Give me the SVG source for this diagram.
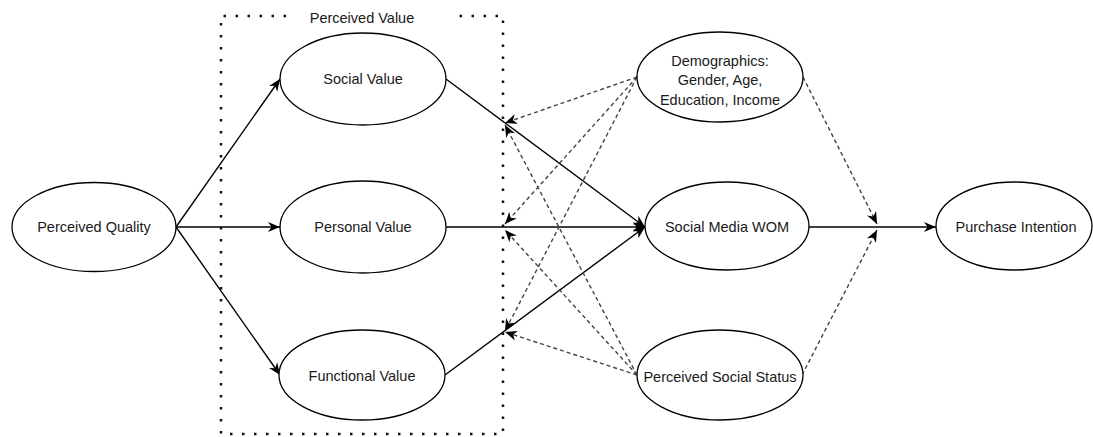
<svg xmlns="http://www.w3.org/2000/svg" width="1093" height="437" viewBox="0 0 1093 437">
  <defs>
    <marker id="arr" viewBox="0 0 10 10" refX="10" refY="5" markerWidth="12" markerHeight="12" markerUnits="userSpaceOnUse" orient="auto">
      <path d="M0,0.8 L10,5 L0,9.2 L3,5 Z" fill="#000" stroke="none"/>
    </marker>
  </defs>
  <style>
    .node ellipse { fill: #fff; stroke: #000; stroke-width: 1.3; }
    .node text, .label { font-family: "Liberation Sans", Arial, sans-serif; font-size: 14.5px; fill: #1a1a1a; text-anchor: middle; dominant-baseline: central; }
    .solid { stroke: #000; stroke-width: 1.4; fill: none; marker-end: url(#arr); }
    .dash { stroke: #444; stroke-width: 1.4; fill: none; stroke-dasharray: 4 3; marker-end: url(#arr); }
    .group { stroke: #111; stroke-width: 2.5; fill: none; stroke-dasharray: 2.5 9.5; }
  </style>
  <rect width="1093" height="437" fill="#fff"/>

  <g id="perceived-value-group">
    <path class="group" d="M286,16 H221 V434 H503 V16 H459"/>
    <text class="label" x="362" y="18">Perceived Value</text>
  </g>

  <g id="connectors">
    <line class="solid" x1="176" y1="227" x2="280" y2="79"/>
    <line class="solid" x1="176" y1="227" x2="280" y2="227"/>
    <line class="solid" x1="176" y1="227" x2="280" y2="375"/>
    <line class="solid" x1="446" y1="79" x2="645" y2="227"/>
    <line class="solid" x1="446" y1="227" x2="645" y2="227"/>
    <line class="solid" x1="445" y1="375" x2="645" y2="227"/>
    <line class="solid" x1="809" y1="227" x2="936" y2="227"/>
    <line class="dash" x1="637" y1="77" x2="505" y2="123"/>
    <line class="dash" x1="637" y1="77" x2="505" y2="224"/>
    <line class="dash" x1="637" y1="77" x2="505" y2="331"/>
    <line class="dash" x1="637" y1="375" x2="505" y2="125"/>
    <line class="dash" x1="637" y1="375" x2="505" y2="230"/>
    <line class="dash" x1="637" y1="375" x2="505" y2="332"/>
    <line class="dash" x1="803" y1="77" x2="877" y2="224"/>
    <line class="dash" x1="802" y1="375" x2="877" y2="230"/>
  </g>

  <g id="perceived-quality" class="node">
    <ellipse cx="94" cy="227" rx="82" ry="44.5"/>
    <text x="94" y="227">Perceived Quality</text>
  </g>
  <g id="social-value" class="node">
    <ellipse cx="363" cy="79" rx="83" ry="46"/>
    <text x="363" y="79">Social Value</text>
  </g>
  <g id="personal-value" class="node">
    <ellipse cx="363" cy="227" rx="83" ry="46"/>
    <text x="363" y="227">Personal Value</text>
  </g>
  <g id="functional-value" class="node">
    <ellipse cx="362" cy="375" rx="83" ry="45"/>
    <text x="362" y="376">Functional Value</text>
  </g>
  <g id="demographics" class="node">
    <ellipse cx="720" cy="77" rx="83" ry="45"/>
    <text x="720" y="61">Demographics:</text>
    <text x="720" y="80">Gender, Age,</text>
    <text x="720" y="100">Education, Income</text>
  </g>
  <g id="social-media-wom" class="node">
    <ellipse cx="727" cy="226" rx="82" ry="44"/>
    <text x="727" y="227">Social Media WOM</text>
  </g>
  <g id="perceived-social-status" class="node">
    <ellipse cx="720" cy="375" rx="83" ry="45"/>
    <text x="720" y="377">Perceived Social Status</text>
  </g>
  <g id="purchase-intention" class="node">
    <ellipse cx="1014" cy="226" rx="78" ry="44"/>
    <text x="1016" y="227">Purchase Intention</text>
  </g>
</svg>
